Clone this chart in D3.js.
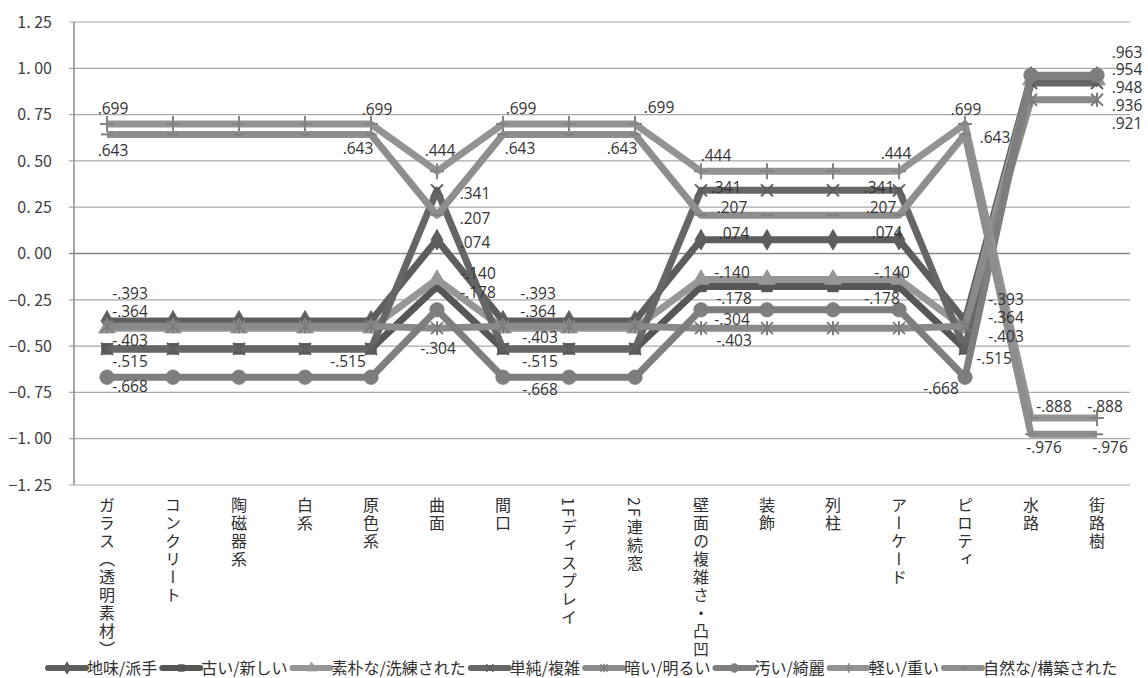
<!DOCTYPE html>
<html>
<head>
<meta charset="utf-8">
<script src="https://cdn.jsdelivr.net/npm/d3@7"></script>
<style>
  body { margin: 0; background: #fff; }
  svg { display: block; }
</style>
</head>
<body>
<div id="chart"></div>
<script>
// categories along the x axis
const categories = ['ガラス（透明素材）', 'コンクリート', '陶磁器系', '白系', '原色系', '曲面', '間口',
  '1Fディスプレイ', '2F連続窓', '壁面の複雑さ・凸凹', '装飾', '列柱', 'アーケード', 'ピロティ', '水路', '街路樹'];

const seriesNames = ['地味/派手', '古い/新しい', '素朴な/洗練された', '単純/複雑', '暗い/明るい', '汚い/綺麗', '軽い/重い', '自然な/構築された'];

// values per series (one per category)
const jimi    = [-.364, -.364, -.364, -.364, -.364, .074, -.364, -.364, -.364, .074, .074, .074, .074, -.364, .954, .954];
const furui   = [-.515, -.515, -.515, -.515, -.515, -.178, -.515, -.515, -.515, -.178, -.178, -.178, -.178, -.515, .948, .948];
const soboku  = [-.403, -.403, -.403, -.403, -.403, -.140, -.403, -.403, -.403, -.140, -.140, -.140, -.140, -.403, .936, .936];
const tanjun  = [-.515, -.515, -.515, -.515, -.515, .341, -.515, -.515, -.515, .341, .341, .341, .341, -.515, .921, .921];
const kurai   = [-.393, -.393, -.393, -.393, -.393, -.403, -.393, -.393, -.393, -.403, -.403, -.403, -.403, -.393, .830, .830];
const kitanai = [-.668, -.668, -.668, -.668, -.668, -.304, -.668, -.668, -.668, -.304, -.304, -.304, -.304, -.668, .963, .963];
const karui   = [.699, .699, .699, .699, .699, .444, .699, .699, .699, .444, .444, .444, .444, .699, -.888, -.888];
const shizen  = [.643, .643, .643, .643, .643, .207, .643, .643, .643, .207, .207, .207, .207, .643, -.976, -.976];

const yTicks = [1.25, 1.00, 0.75, 0.50, 0.25, 0.00, -0.25, -0.50, -0.75, -1.00, -1.25];

const allValues = [jimi, furui, soboku, tanjun, kurai, kitanai, karui, shizen];

// styling per series
const colors = ['#5e5e5e', '#565656', '#969696', '#666666', '#8a8a8a', '#7e7e7e', '#939393', '#8e8e8e'];
const markers = ['diamond', 'square', 'triangle', 'x', 'star', 'circle', 'plus', 'dash'];

// which data labels are shown: [series, category, dx, dy]
const labelSpots = [
  [6, 0, 6, -15], [7, 0, 6, 16], [4, 0, 23, -33], [0, 0, 23, -9], [2, 0, 23, 12], [1, 0, 23, 13], [5, 0, 23, 9],
  [6, 4, 6, -14], [7, 4, -13, 14], [1, 4, -23, 13],
  [6, 5, 3, -21], [3, 5, 38, 3], [7, 5, 38, 3], [0, 5, 38, 3], [2, 5, 41, -6], [1, 5, 41, 6], [5, 5, 1, 39],
  [6, 6, 18, -15], [7, 6, 17, 14], [4, 6, 35, -33], [0, 6, 35, -9], [2, 6, 37, 9], [1, 6, 37, 13], [5, 6, 37, 12],
  [6, 8, 24, -16], [7, 8, -13, 14],
  [6, 9, 15, -16], [3, 9, 25, -3], [7, 9, 31, -8], [0, 9, 33, -6], [2, 9, 31, -7], [1, 9, 33, 12], [5, 9, 31, 10], [4, 9, 33, 12],
  [6, 12, -3, -18], [3, 12, -20, -3], [7, 12, -18, -8], [0, 12, -12, -7], [2, 12, -7, -7], [1, 12, -17, 12],
  [6, 13, 1, -14], [7, 13, 30, 3], [4, 13, 41, -27], [0, 13, 41, -3], [2, 13, 41, 8], [1, 13, 29, 10], [5, 13, -24, 11],
  [6, 14, 23, -11], [7, 14, 13, 13],
  [5, 15, 30, -23], [0, 15, 30, -7], [1, 15, 30, 10], [2, 15, 30, 25], [3, 15, 30, 41], [6, 15, 8, -11], [7, 15, 13, 13]
];

const width = 1148, height = 678;
const plotLeft = 74, plotRight = 1130, plotTop = 22, plotBottom = 485;

const svg = d3.select('#chart').append('svg')
  .attr('width', width)
  .attr('height', height);

const x = d3.scaleBand().domain(categories).range([plotLeft, plotRight]).padding(0);
const y = d3.scaleLinear().domain([-1.25, 1.25]).range([plotBottom, plotTop]);
const cx = i => x(categories[i]) + x.bandwidth() / 2;

// gridlines
svg.append('g').selectAll('line')
  .data(yTicks)
  .enter().append('line')
  .attr('x1', plotLeft - 5)
  .attr('x2', plotRight)
  .attr('y1', d => y(d))
  .attr('y2', d => y(d))
  .attr('stroke', d => d === 0 ? '#858585' : '#a9a9a9')
  .attr('stroke-width', d => d === 0 ? 1.6 : 1.2);

// y axis line
svg.append('line')
  .attr('x1', plotLeft).attr('x2', plotLeft)
  .attr('y1', y(1.25)).attr('y2', y(-1.25))
  .attr('stroke', '#8a8a8a').attr('stroke-width', 1.5);

// y tick labels
const fmtTick = d => d3.format('.2f')(d).replace('.', '. ');
svg.append('g').selectAll('text')
  .data(yTicks)
  .enter().append('text')
  .attr('x', 52)
  .attr('y', d => y(d))
  .attr('dy', '0.36em')
  .attr('text-anchor', 'end')
  .style('font-family', '"Noto Sans CJK JP", sans-serif')
  .style('font-size', '16px')
  .style('fill', '#404040')
  .text(fmtTick);

// category labels (vertical)
svg.append('g').selectAll('text')
  .data(categories)
  .enter().append('text')
  .attr('x', (d, i) => cx(i))
  .attr('y', 497)
  .style('writing-mode', 'vertical-rl')
  .style('font-family', '"Noto Sans CJK JP", sans-serif')
  .style('font-size', '16px')
  .style('letter-spacing', '2px')
  .style('fill', '#303030')
  .text(d => d);

function markerPath(type, k = 1) {
  switch (type) {
    case 'diamond': return d3.symbol(d3.symbolDiamond, 120 * k * k)();
    case 'square': return d3.symbol(d3.symbolSquare, 110 * k * k)();
    case 'triangle': return d3.symbol(d3.symbolTriangle, 120 * k * k)();
    case 'circle': return d3.symbol(d3.symbolCircle, 160 * k * k)();
    case 'x': return `M${-6 * k},${-6 * k}L${6 * k},${6 * k}M${-6 * k},${6 * k}L${6 * k},${-6 * k}`;
    case 'star': return `M${-6 * k},${-6 * k}L${6 * k},${6 * k}M${-6 * k},${6 * k}L${6 * k},${-6 * k}M0,${-7 * k}L0,${7 * k}`;
    case 'plus': return `M${-7 * k},0L${7 * k},0M0,${-8 * k}L0,${8 * k}`;
    case 'dash': return `M${-6 * k},0L${6 * k},0`;
  }
}
const filled = t => ['diamond', 'square', 'triangle', 'circle'].includes(t);

const line = d3.line()
  .x((d, i) => cx(i))
  .y(d => y(d));

const series = seriesNames.map((name, s) => ({ name, values: allValues[s], color: colors[s], marker: markers[s] }));

series.forEach(sr => {
  const g = svg.append('g');
  g.append('path')
    .datum(sr.values)
    .attr('d', line)
    .attr('fill', 'none')
    .attr('stroke', sr.color)
    .attr('stroke-width', 7)
    .attr('stroke-linejoin', 'round');

  g.selectAll('path.m')
    .data(sr.values)
    .enter().append('path')
    .attr('class', 'm')
    .attr('transform', (d, i) => `translate(${cx(i)},${y(d)})`)
    .attr('d', markerPath(sr.marker))
    .attr('fill', filled(sr.marker) ? sr.color : 'none')
    .attr('stroke', filled(sr.marker) ? sr.color : d3.color(sr.color).darker(0.3))
    .attr('stroke-width', filled(sr.marker) ? 1 : 2);
});

// data labels
const fmtLabel = v => d3.format('.3f')(v).replace('0.', '.').replace('−', '-');
svg.append('g').selectAll('text')
  .data(labelSpots)
  .enter().append('text')
  .attr('x', d => cx(d[1]) + d[2])
  .attr('y', d => y(allValues[d[0]][d[1]]) + d[3])
  .attr('dy', '0.35em')
  .attr('text-anchor', 'middle')
  .style('font-family', '"Open Sans", sans-serif')
  .style('font-size', '15.5px')
  .style('fill', '#333')
  .text(d => fmtLabel(allValues[d[0]][d[1]]));

// legend
const legend = svg.append('g');
let lx = 48;
const ly = 668;
series.forEach(sr => {
  legend.append('line')
    .attr('x1', lx).attr('x2', lx + 38)
    .attr('y1', ly).attr('y2', ly)
    .attr('stroke', sr.color)
    .attr('stroke-width', 6)
    .attr('stroke-linecap', 'round');
  legend.append('path')
    .attr('transform', `translate(${lx + 19},${ly})`)
    .attr('d', markerPath(sr.marker, 0.6))
    .attr('fill', filled(sr.marker) ? sr.color : 'none')
    .attr('stroke', filled(sr.marker) ? sr.color : d3.color(sr.color).darker(0.3))
    .attr('stroke-width', filled(sr.marker) ? 1 : 1.5);
  const t = legend.append('text')
    .attr('x', lx + 39)
    .attr('y', ly)
    .attr('dy', '0.36em')
    .style('font-family', '"Noto Sans CJK JP", sans-serif')
    .style('font-size', '16px')
    .style('fill', '#303030')
    .text(sr.name);
  lx += 39 + t.node().getComputedTextLength() + 5;
});
</script>
</body>
</html>
